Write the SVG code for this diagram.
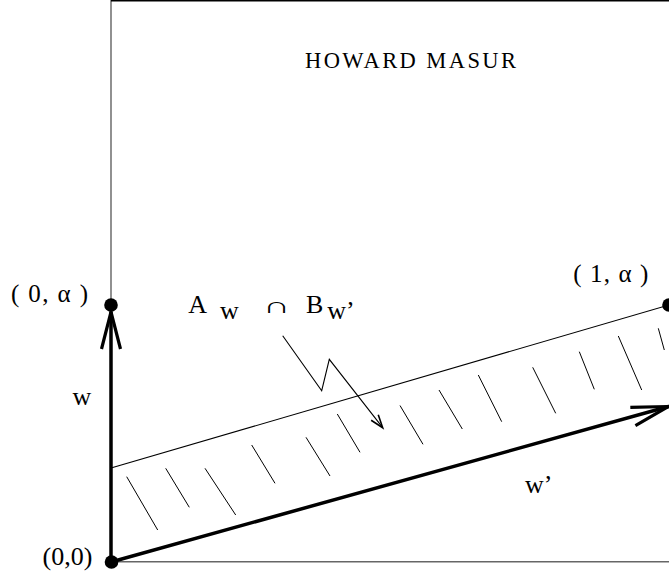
<svg xmlns="http://www.w3.org/2000/svg" width="669" height="576" viewBox="0 0 669 576">
<defs>
<style>
text{font-family:"Liberation Serif","Times New Roman",serif;fill:#000}
.lbl{font-size:25px}
.big{font-size:26px}
.frame{stroke:#555;stroke-width:1.3;fill:none}
.thick{stroke:#000;stroke-width:3.5;fill:none;stroke-linecap:round}
.thin{stroke:#000;stroke-width:1.1;fill:none}
.hatch{stroke:#000;stroke-width:1;fill:none}
.dot{fill:#000}
</style>
<marker id="bigV" markerUnits="userSpaceOnUse" orient="auto" refX="0" refY="0" markerWidth="10" markerHeight="10" overflow="visible">
<path d="M-37,-9.5 L0,0 L-37,9.5" fill="none" stroke="#000" stroke-width="3.2"/>
</marker>
<marker id="smallV" markerUnits="userSpaceOnUse" orient="auto" refX="0" refY="0" markerWidth="10" markerHeight="10" overflow="visible">
<path d="M-13,-4.5 L0,0 L-13,4.5" fill="none" stroke="#000" stroke-width="1.6"/>
</marker>
</defs>
<rect width="669" height="576" fill="#fff"/>
<g id="frame">
<line class="frame" x1="111" y1="0" x2="111" y2="562"/>
<line x1="111" y1="0.8" x2="669" y2="0.8" stroke="#000" stroke-width="1.6"/>
<line x1="111" y1="561.8" x2="669" y2="561.8" stroke="#666" stroke-width="1.6"/>
</g>
<g id="title">
<text x="305" y="68.3" font-size="22.5" textLength="211" lengthAdjust="spacing">HOWARD MASUR</text>
</g>
<g id="region">
<line class="thin" x1="111" y1="468" x2="669" y2="305"/>
<g id="hatching">
<line class="hatch" x1="126.7" y1="476.7" x2="157.7" y2="530"/>
<line class="hatch" x1="165.7" y1="468.3" x2="189.3" y2="507.3"/>
<line class="hatch" x1="205" y1="468.3" x2="235.7" y2="515"/>
<line class="hatch" x1="251.7" y1="445" x2="275" y2="483.3"/>
<line class="hatch" x1="306" y1="437.3" x2="330" y2="476"/>
<line class="hatch" x1="337.3" y1="414" x2="360" y2="452.3"/>
<line class="hatch" x1="400" y1="405.5" x2="423" y2="444.3"/>
<line class="hatch" x1="439" y1="390" x2="462.3" y2="429"/>
<line class="hatch" x1="478.3" y1="375" x2="501.7" y2="421.7"/>
<line class="hatch" x1="532.7" y1="367.3" x2="555.7" y2="413.3"/>
<line class="hatch" x1="579.3" y1="351.7" x2="594.3" y2="389.3"/>
<line class="hatch" x1="618.3" y1="336" x2="641.7" y2="390"/>
<line class="hatch" x1="658.3" y1="328.3" x2="664.3" y2="350"/>
</g>
</g>
<g id="connectors">
<line id="vec-w" class="thick" x1="111" y1="562" x2="111" y2="312" marker-end="url(#bigV)"/>
<line id="vec-w-prime" class="thick" x1="111" y1="562" x2="668.5" y2="406.5" marker-end="url(#bigV)"/>
<polyline id="pointer" class="thin" points="282.7,335.7 321.7,390.7 329.3,359.3 382.7,427.7" marker-end="url(#smallV)"/>
</g>
<g id="node-origin">
<circle class="dot" cx="111.5" cy="562" r="6.8"/>
<text class="big" x="42.5" y="564.5">(0,0)</text>
</g>
<g id="node-0-alpha">
<circle class="dot" cx="111" cy="305" r="6.8"/>
<text class="lbl" x="11" y="301.7" textLength="77" lengthAdjust="spacing">( 0, α )</text>
</g>
<g id="node-1-alpha">
<circle class="dot" cx="669" cy="305" r="6.8"/>
<text class="lbl" x="573.3" y="282.3" textLength="75" lengthAdjust="spacing">( 1, α )</text>
</g>
<g id="label-w">
<text class="big" x="72.5" y="405">w</text>
</g>
<g id="label-w-prime">
<text class="big" x="525" y="492.7">w’</text>
</g>
<g id="label-intersection">
<text class="big" x="188.3" y="313.3">A</text>
<text class="big" x="220" y="319">w</text>
<text transform="translate(263,313.3) scale(1.7,1.0)" font-size="22">∩</text>
<text class="big" x="306" y="313.3">B</text>
<text class="big" x="327.3" y="319">w’</text>
</g>
</svg>
